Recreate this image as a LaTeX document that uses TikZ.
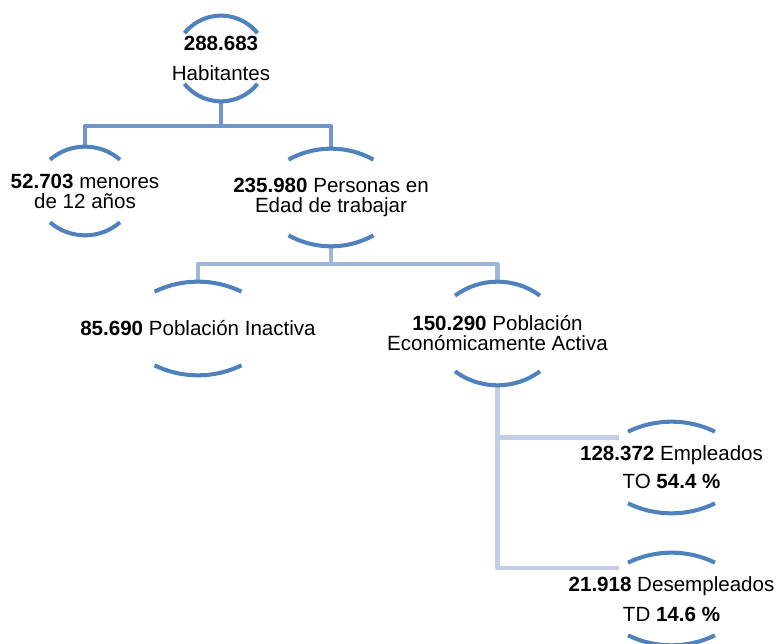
\documentclass[tikz,border=0pt]{standalone}
\usepackage{fontspec}
\setmainfont{Liberation Sans}
\usepackage{tikz}

\definecolor{ringblue}{RGB}{79,129,189}
\definecolor{linkone}{RGB}{114,149,206}
\definecolor{linktwo}{RGB}{160,181,218}
\definecolor{linkthree}{RGB}{193,206,230}

\begin{document}
\begin{tikzpicture}[
    x=0.02cm, y=-0.02cm,
    every node/.style={align=center, inner sep=0pt, font=\fontsize{11.7}{11.4}\selectfont},
    bubble/.style={minimum height=#1},
    ring/.style={draw=ringblue, line width=2.3pt},
    levelone/.style={draw=linkone, line width=2.3pt, line join=round},
    leveltwo/.style={draw=linktwo, line width=2.4pt, line join=round},
    levelthree/.style={draw=linkthree, line width=2.8pt, line join=round}
]
\useasboundingbox (0,0) rectangle (778,644);

% Root
\node[bubble=1.7cm] (hab) at (221,58.5) {\textbf{288.683}\\[5.6pt]Habitantes};

% --- Level 1
\node[bubble=1.76cm] (men) at (85,191) {\textbf{52.703} menores\\de 12 años};
\node[bubble=1.94cm] (edad) at (331,197.5) {\textbf{235.980} Personas en\\Edad de trabajar};

% --- Level 2
\node[bubble=1.86cm] (inac) at (198,328.5) {\textbf{85.690} Población Inactiva};
\node[bubble=2.06cm] (pea) at (497.5,333.5) {\textbf{150.290} Población\\Económicamente Activa};

% --- Level 3
\node[bubble=1.82cm] (emp) at (671.5,467.5) {\textbf{128.372} Empleados\\[4.5pt]TO \textbf{54.4 \%}};
\node[bubble=1.84cm] (des) at (671.5,599) {\textbf{21.918} Desempleados\\[5.6pt]TD \textbf{14.6 \%}};

% connectors
\draw[levelone] (hab.south) -- ++(0,25) coordinate (j1);
\draw[levelone] (men.north) |- (j1) -| (edad.north);
\draw[leveltwo] (edad.south) -- ++(0,18) coordinate (j2);
\draw[leveltwo] (inac.north) |- (j2) -| (pea.north);
\draw[levelthree] (pea.south) |- ([shift={(-53,-30)}]emp.center);
\draw[levelthree] (pea.south) |- ([shift={(-53,-31)}]des.center);

% circular arcs above and below each text (half width, sag)
\foreach \n/\w/\s in {hab/36.5/17.5, men/35/13, edad/42.5/11, inac/43.5/10,
                      pea/42.5/14, emp/43.5/10, des/43.5/10}{
    \pgfmathsetmacro\r{(\w*\w+\s*\s)/(2*\s)}
    \pgfmathsetmacro\a{asin(\w/\r)}
    \draw[ring] ([shift={(-\w,\s)}]\n.north) arc[start angle=270-\a, end angle=270+\a, radius=\r];
    \draw[ring] ([shift={(-\w,-\s)}]\n.south) arc[start angle=90+\a, end angle=90-\a, radius=\r];
}
\end{tikzpicture}
\end{document}
